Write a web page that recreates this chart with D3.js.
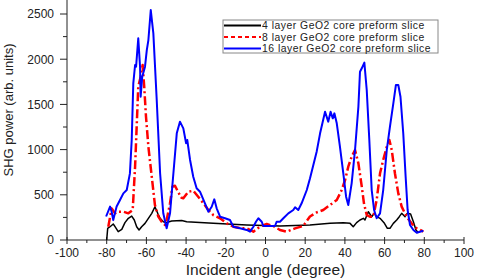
<!DOCTYPE html>
<html>
<head>
<meta charset="utf-8">
<script src="https://cdn.jsdelivr.net/npm/d3@7"></script>
<style>
  body { margin: 0; background: #fff; }
  svg { font-family: "Liberation Sans", Arial, sans-serif; }
</style>
</head>
<body>
<svg id="chart" width="480" height="278"></svg>
<script>
// SHG power vs incident angle, three preform slices

const seriesNames = ['4 layer GeO2 core preform slice', '8 layer GeO2 core preform slice', '16 layer GeO2 core preform slice']
const xTicks = [-100, -80, -60, -40, -20, 0, 20, 40, 60, 80, 100]
const yTicks = [0, 500, 1000, 1500, 2000, 2500]

// [angle (degree), SHG power]
const layer4 = [[-80, 0], [-79.5, 129], [-78.3, 147], [-76.7, 177], [-75.8, 147], [-74.2, 92], [-72.4, 118], [-70.8, 192],
  [-69.1, 240], [-67.4, 265], [-66.1, 221], [-64.9, 147], [-63.7, 111], [-62.4, 147], [-60.7, 184], [-59, 240],
  [-57.3, 295], [-55.7, 368], [-54.3, 295], [-53.1, 240], [-51.5, 202], [-49.8, 192], [-47.3, 210], [-42.2, 215],
  [-39.7, 202], [-26.3, 184], [-9.5, 166], [7.3, 155], [22.4, 166], [32.5, 184], [39.2, 192], [42.6, 184],
  [44.2, 147], [45.9, 192], [47.6, 221], [49.3, 240], [50.1, 221], [51.8, 313], [53.5, 258], [54.8, 295],
  [56, 258], [57.7, 240], [59.7, 192], [61.4, 129], [62.7, 129], [64.4, 184], [66.1, 221], [67.4, 258],
  [68.6, 295], [70.3, 258], [71.4, 295], [73.1, 288], [74.5, 202], [75.8, 111], [77, 81]]

const layer8 = [[-79.2, 147], [-77.5, 350], [-75.8, 295], [-74.2, 313], [-71.6, 313], [-69.1, 295], [-66.9, 332],
  [-65.7, 811], [-64.9, 1254], [-64.1, 1696], [-62.9, 1806], [-61.9, 1936], [-61.1, 1696], [-60.2, 1364],
  [-59, 1032], [-57.3, 700], [-55.7, 387], [-54, 258], [-52.3, 202], [-50.6, 166], [-49.8, 221], [-48.1, 406],
  [-46.9, 590], [-45.6, 600], [-44.2, 540], [-42.5, 470], [-41.4, 461], [-38.9, 534], [-36.4, 545], [-33.9, 479],
  [-31.3, 406], [-28.8, 332], [-26.3, 276], [-22.9, 240], [-19.5, 184], [-16.2, 147], [-12, 129], [-9.5, 129],
  [-6.1, 92], [-2.8, 147], [0.6, 177], [3.9, 155], [7.3, 111], [10.7, 92], [14.9, 129], [19, 155], [22.4, 260],
  [25.8, 305], [29.1, 332], [32.5, 387], [35.9, 442], [38.4, 553], [40.1, 664], [41.7, 811], [43.4, 921],
  [45.1, 996], [46.8, 848], [48.5, 590], [49.6, 406], [51, 276], [52.6, 258], [54.3, 258], [56, 442], [57.7, 738],
  [59.3, 885], [61.1, 1032], [62.4, 1106], [63.6, 996], [65.2, 738], [66.9, 516], [68.6, 369], [71.1, 258],
  [73.6, 184], [76.2, 129], [78.7, 103], [79.5, 92]]

const layer16 = [[-80.3, 260], [-78.3, 370], [-77.5, 313], [-76.7, 220], [-75.8, 300], [-75, 370], [-73.3, 442],
  [-71.6, 516], [-69.9, 553], [-68.3, 737], [-67.4, 1106], [-66.6, 1733], [-65.7, 1936], [-65.2, 1917],
  [-64.1, 2231], [-63.2, 1917], [-62.9, 1585], [-62.1, 1806], [-60.7, 1917], [-59.8, 2101], [-59, 2212],
  [-57.8, 2544], [-56.5, 2286], [-54.8, 1549], [-53.1, 738], [-51.5, 295], [-49.8, 129], [-48.1, 295],
  [-46.4, 738], [-44.7, 1180], [-43.1, 1309], [-41.4, 1235], [-40, 1070], [-39.4, 1106], [-38, 885], [-36.4, 700],
  [-34.7, 572], [-33, 534], [-30.5, 406], [-28.8, 313], [-27.1, 368], [-25.8, 450], [-24.6, 350], [-22.9, 258],
  [-20.4, 240], [-17.9, 221], [-16.2, 147], [-12.8, 129], [-9.5, 111], [-7.8, 92], [-6.1, 147], [-4.8, 202],
  [-3.6, 240], [-1.9, 202], [-1.1, 155], [2.3, 155], [4.8, 155], [5.6, 202], [7.3, 202], [9, 240], [11.5, 295],
  [14, 332], [14.9, 362], [16.5, 332], [18.2, 406], [20.8, 553], [22.4, 680], [24.1, 830], [25.8, 980],
  [27.5, 1180], [30, 1419], [31.6, 1309], [32.8, 1419], [33.9, 1346], [34.7, 1401], [35.9, 1291], [37.5, 1032],
  [39.2, 738], [40.6, 479], [41.7, 387], [43.4, 627], [45.1, 996], [46.8, 1475], [47.6, 1862], [48.5, 1899],
  [49.8, 1962], [51, 1659], [52.3, 1106], [53.5, 553], [54.7, 332], [56, 240], [57.7, 295], [59.3, 553],
  [61.1, 996], [62.7, 1254], [64.4, 1512], [65.7, 1715], [66.9, 1715], [68, 1585], [69.4, 1180], [70.6, 700],
  [71.6, 332], [72.8, 166], [74.5, 111], [76.2, 81], [77.8, 92], [79.5, 103]]

const styles = [
  { color: '#000000', width: 1.5, dash: null, legendDash: null },
  { color: '#ff0000', width: 2.5, dash: '9,3,2,3', legendDash: '4,3' },
  { color: '#0000ff', width: 2, dash: null, legendDash: null }
]

const svg = d3.select('#chart')

const x = d3.scaleLinear().domain([-100, 100]).range([67, 464])
const y = d3.scaleLinear().domain([0, 2655]).range([240, 0])

// axes
const xAxis = svg.append('g').attr('transform', 'translate(0,240)')
xAxis.append('line').attr('x1', x(-100)).attr('x2', x(100)).attr('stroke', '#222')
xAxis.selectAll('.minor').data(d3.range(-90, 100, 20)).join('line')
  .attr('x1', d => x(d)).attr('x2', d => x(d)).attr('y1', 0).attr('y2', 3).attr('stroke', '#222')
xAxis.selectAll('.major').data(xTicks).join('line')
  .attr('x1', d => x(d)).attr('x2', d => x(d)).attr('y1', -3).attr('y2', 4).attr('stroke', '#222')
xAxis.selectAll('text').data(xTicks).join('text')
  .attr('x', d => x(d)).attr('y', 17).attr('text-anchor', 'middle')
  .attr('font-size', 12).attr('fill', '#222').text(d => d)

const yAxis = svg.append('g').attr('transform', 'translate(67,0)')
yAxis.append('line').attr('y1', y(0)).attr('y2', 0).attr('stroke', '#222')
yAxis.selectAll('.minor').data(d3.range(250, 2600, 500)).join('line')
  .attr('y1', d => y(d)).attr('y2', d => y(d)).attr('x1', 0).attr('x2', -4).attr('stroke', '#222')
yAxis.selectAll('.major').data(yTicks).join('line')
  .attr('y1', d => y(d)).attr('y2', d => y(d)).attr('x1', 0).attr('x2', -7).attr('stroke', '#222')
yAxis.selectAll('text').data(yTicks).join('text')
  .attr('x', -13).attr('y', d => y(d) + 4.3).attr('text-anchor', 'end')
  .attr('font-size', 12).attr('fill', '#222').text(d => d)

// axis titles
svg.append('text').attr('x', 265.5).attr('y', 274.5).attr('text-anchor', 'middle')
  .attr('font-size', 15.5).attr('fill', '#222').text('Incident angle (degree)')
svg.append('text').attr('transform', 'translate(13,110) rotate(-90)').attr('text-anchor', 'middle')
  .attr('font-size', 13).attr('fill', '#222').text('SHG power (arb. units)')

// curves
const line = d3.line().x(d => x(d[0])).y(d => y(d[1]))
const allSeries = [layer4, layer8, layer16]
allSeries.forEach((s, i) => {
  svg.append('path').datum(s).attr('d', line)
    .attr('fill', 'none').attr('stroke', styles[i].color)
    .attr('stroke-width', styles[i].width)
    .attr('stroke-linejoin', 'round')
    .attr('stroke-dasharray', styles[i].dash)
})

// legend
const legend = svg.append('g').attr('transform', 'translate(223,20)')
legend.append('rect').attr('width', 215).attr('height', 33)
  .attr('fill', '#fff').attr('stroke', '#888').attr('stroke-width', 1)
seriesNames.forEach((name, i) => {
  const row = legend.append('g').attr('transform', 'translate(0,' + (5.5 + i * 11.5) + ')')
  row.append('line').attr('x1', 1).attr('x2', 38)
    .attr('stroke', styles[i].color).attr('stroke-width', 2)
    .attr('stroke-dasharray', styles[i].legendDash)
  row.append('text').attr('x', 39).attr('y', 3.8).attr('font-size', 10.4)
    .attr('letter-spacing', 0.5).attr('fill', '#222').text(name)
})
</script>
</body>
</html>
